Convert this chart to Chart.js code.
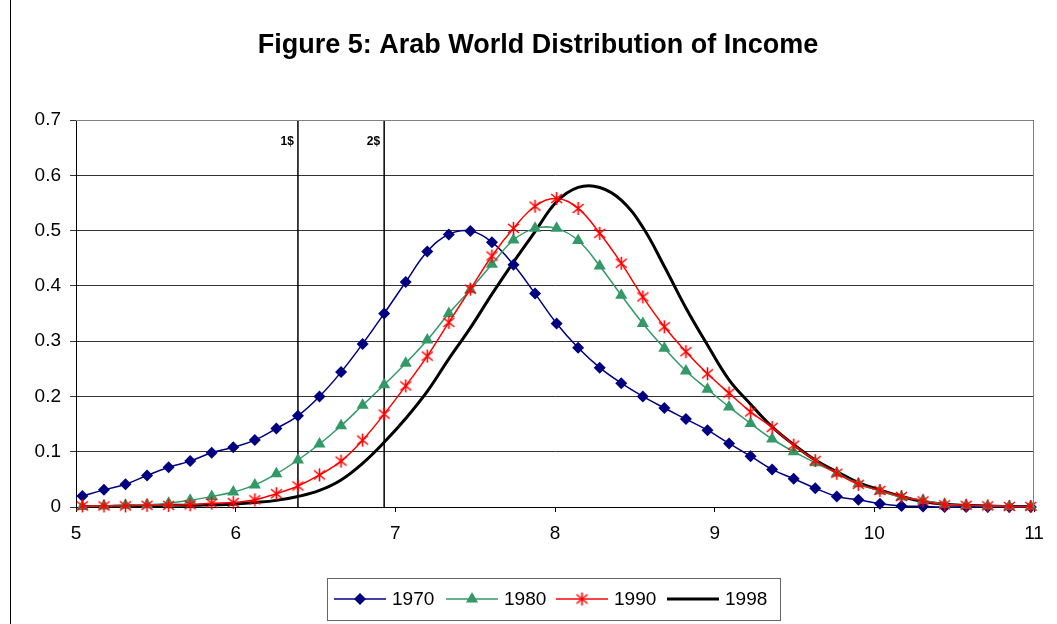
<!DOCTYPE html>
<html>
<head>
<meta charset="utf-8">
<script src="https://cdn.jsdelivr.net/npm/chart.js@4.4.0/dist/chart.umd.min.js"></script>
<style>
    body { margin: 0; background: #fff; }
    #wrap { width: 1057px; height: 624px; }
</style>
</head>
<body>
<div id="wrap"><canvas id="incomeChart" width="1057" height="624"></canvas></div>
<script>
    // log income grid (x) and density for each year
    const logIncome = [5.04, 5.175, 5.31, 5.445, 5.58, 5.715, 5.85, 5.985, 6.12, 6.255,
        6.39, 6.525, 6.66, 6.795, 6.93, 7.065, 7.2, 7.335, 7.47, 7.605,
        7.74, 7.875, 8.01, 8.145, 8.28, 8.415, 8.55, 8.685, 8.82, 8.955,
        9.09, 9.225, 9.36, 9.495, 9.63, 9.765, 9.9, 10.035, 10.17, 10.305,
        10.44, 10.575, 10.71, 10.845, 10.98];

    const years = ['1970', '1980', '1990', '1998'];

    const d1970 = [0.020, 0.031, 0.041, 0.057, 0.072, 0.083, 0.098, 0.108, 0.121, 0.142,
        0.165, 0.200, 0.244, 0.295, 0.350, 0.407, 0.462, 0.493, 0.499, 0.479,
        0.438, 0.386, 0.332, 0.288, 0.252, 0.224, 0.200, 0.179, 0.159, 0.139,
        0.115, 0.092, 0.068, 0.051, 0.034, 0.019, 0.013, 0.006, 0.002, 0.001,
        0, 0, 0, 0, 0];
    const d1980 = [0.001, 0.002, 0.003, 0.004, 0.007, 0.012, 0.019, 0.027, 0.040, 0.060,
        0.085, 0.114, 0.147, 0.184, 0.221, 0.260, 0.302, 0.350, 0.393, 0.439,
        0.483, 0.504, 0.504, 0.482, 0.436, 0.383, 0.332, 0.287, 0.246, 0.213,
        0.181, 0.151, 0.123, 0.100, 0.080, 0.061, 0.042, 0.029, 0.018, 0.012,
        0.005, 0.003, 0.002, 0.001, 0.001];
    const d1990 = [0.002, 0.002, 0.002, 0.003, 0.003, 0.004, 0.007, 0.008, 0.013, 0.024,
        0.038, 0.058, 0.083, 0.121, 0.168, 0.219, 0.273, 0.334, 0.394, 0.454,
        0.504, 0.544, 0.558, 0.540, 0.495, 0.441, 0.380, 0.326, 0.281, 0.241,
        0.206, 0.172, 0.144, 0.112, 0.084, 0.061, 0.041, 0.030, 0.019, 0.011,
        0.004, 0.003, 0.002, 0.001, 0.001];
    const d1998 = [0.001, 0.001, 0.002, 0.002, 0.003, 0.003, 0.004, 0.005, 0.008, 0.012,
        0.019, 0.030, 0.049, 0.079, 0.117, 0.160, 0.209, 0.268, 0.324, 0.385,
        0.443, 0.498, 0.552, 0.578, 0.578, 0.555, 0.506, 0.435, 0.360, 0.293,
        0.230, 0.186, 0.145, 0.113, 0.085, 0.064, 0.044, 0.031, 0.019, 0.010,
        0.005, 0.003, 0.002, 0.001, 0.001];

    // poverty lines
    const povertyLabels = ['1$', '2$'];
    const povertyX = [6.39, 6.93];

    const TITLE = 'Figure 5: Arab World Distribution of Income';
    const FONT = "'Liberation Sans', Arial, sans-serif";

    // excel style asterisk marker (X with a vertical bar)
    function makeAsterisk(color) {
        const c = document.createElement('canvas');
        c.width = 15; c.height = 15;
        const g = c.getContext('2d');
        g.strokeStyle = color;
        g.lineWidth = 1.6;
        g.beginPath();
        g.moveTo(7.5, 1); g.lineTo(7.5, 14);
        g.moveTo(2, 3); g.lineTo(13, 12);
        g.moveTo(13, 3); g.lineTo(2, 12);
        g.stroke();
        return c;
    }
    const asterisk = makeAsterisk('#ff0000');

    function toPoints(vals) {
        return vals.map((v, i) => ({ x: logIncome[i], y: v }));
    }

    const seriesStyle = [
        { color: '#000080', width: 1.5, style: 'rectRot', radius: 6, order: 3 },
        { color: '#339966', width: 1.5, style: 'triangle', radius: 7, order: 2 },
        { color: '#ff0000', width: 1.5, style: asterisk, radius: 7, order: 1 },
        { color: '#000000', width: 3, style: false, radius: 0, order: 4 }
    ];
    const seriesData = [d1970, d1980, d1990, d1998];

    const datasets = years.map((yr, k) => {
        const s = seriesStyle[k];
        return {
            label: yr,
            data: toPoints(seriesData[k]),
            borderColor: s.color,
            backgroundColor: s.color,
            borderWidth: s.width,
            pointStyle: s.style,
            pointRadius: s.radius,
            pointBorderWidth: 0,
            tension: 0.4,
            order: s.order,
            clip: 12
        };
    });

    povertyX.forEach((px, k) => {
        datasets.push({
            label: povertyLabels[k],
            data: [{ x: px, y: 0 }, { x: px, y: 0.7 }],
            borderColor: '#000',
            borderWidth: 1.5,
            pointRadius: 0,
            tension: 0,
            order: 5
        });
    });

    const frame = {
        id: 'frame',
        beforeDraw(chart) {
            const ctx = chart.ctx;
            ctx.save();
            ctx.fillStyle = '#fff';
            ctx.fillRect(0, 0, chart.width, chart.height);
            ctx.strokeStyle = '#000';
            ctx.lineWidth = 1;
            ctx.beginPath();
            ctx.moveTo(10.5, 0);
            ctx.lineTo(10.5, chart.height);
            ctx.stroke();

            ctx.fillStyle = '#000';
            ctx.font = 'bold 27px ' + FONT;
            ctx.textAlign = 'center';
            ctx.textBaseline = 'middle';
            ctx.fillText(TITLE, 538, 46);
            ctx.restore();
        },
        afterDatasetsDraw(chart) {
            const ctx = chart.ctx;
            const a = chart.chartArea;
            const xs = chart.scales.x, ys = chart.scales.y;
            ctx.save();
            ctx.strokeStyle = '#808080';
            ctx.lineWidth = 1;
            ctx.beginPath();
            ctx.moveTo(a.left, a.top + 0.5);
            ctx.lineTo(a.right - 0.5, a.top + 0.5);
            ctx.lineTo(a.right - 0.5, a.bottom);
            ctx.stroke();

            // poverty line labels
            ctx.fillStyle = '#000';
            ctx.font = 'bold 12px ' + FONT;
            ctx.textAlign = 'right';
            ctx.textBaseline = 'middle';
            povertyX.forEach((px, k) => {
                ctx.fillText(povertyLabels[k], xs.getPixelForValue(px) - 4, ys.getPixelForValue(0.66));
            });

            // legend box
            const bx = 327, by = 578, bw = 453, bh = 42;
            ctx.strokeStyle = '#666';
            ctx.strokeRect(bx + 0.5, by + 0.5, bw, bh);
            const cy = by + bh / 2;
            const itemX = [334, 446, 556, 667];
            ctx.font = '19px ' + FONT;
            ctx.textAlign = 'left';
            years.forEach((yr, k) => {
                const s = seriesStyle[k];
                const x0 = itemX[k], x1 = x0 + 52;
                ctx.strokeStyle = s.color;
                ctx.lineWidth = s.width;
                ctx.beginPath();
                ctx.moveTo(x0, cy);
                ctx.lineTo(x1, cy);
                ctx.stroke();
                if (s.style) {
                    const opts = { pointStyle: s.style, radius: s.radius, borderWidth: 0 };
                    ctx.fillStyle = s.color;
                    Chart.helpers.drawPoint(ctx, opts, (x0 + x1) / 2, cy);
                }
                ctx.fillStyle = '#000';
                ctx.fillText(yr, x1 + 6, cy + 1);
            });
            ctx.restore();
        }
    };

    new Chart(document.getElementById('incomeChart'), {
        type: 'line',
        data: { datasets: datasets },
        options: {
            responsive: false,
            animation: false,
            layout: { padding: { left: 0, right: 23, top: 120, bottom: 0 } },
            plugins: {
                legend: { display: false },
                tooltip: { enabled: false },
                title: { display: false }
            },
            scales: {
                x: {
                    type: 'linear',
                    min: 5,
                    max: 11,
                    ticks: {
                        stepSize: 1,
                        color: '#000',
                        padding: 10,
                        font: { family: FONT, size: 19 }
                    },
                    grid: { drawOnChartArea: false, drawTicks: true, tickLength: 5, color: '#000' },
                    border: { color: '#000', width: 1 },
                    afterFit(scale) { scale.height = 117; }
                },
                y: {
                    min: 0,
                    max: 0.7,
                    ticks: {
                        stepSize: 0.1,
                        color: '#000',
                        padding: 9,
                        font: { family: FONT, size: 19 }
                    },
                    grid: { color: '#333', tickLength: 6, drawTicks: true },
                    border: { color: '#000', width: 1 },
                    afterFit(scale) { scale.width = 76; }
                }
            }
        },
        plugins: [frame]
    });
</script>
</body>
</html>
